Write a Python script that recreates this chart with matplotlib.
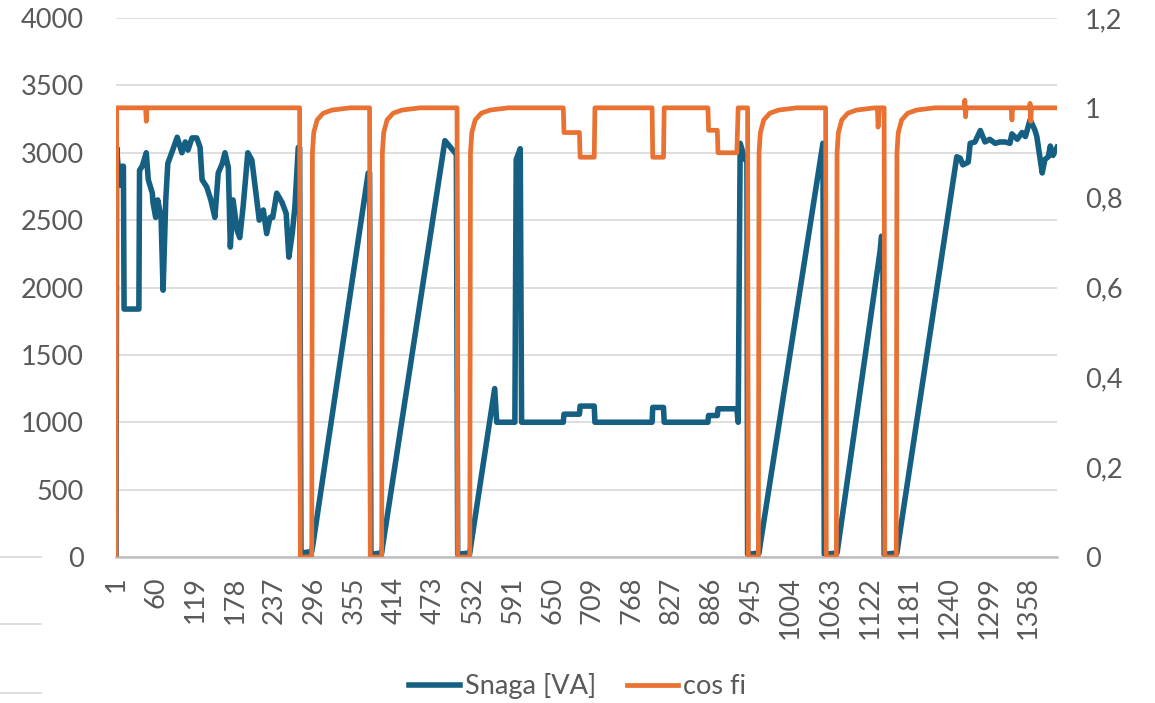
import matplotlib
matplotlib.use("Agg")
import matplotlib.pyplot as plt
from matplotlib.lines import Line2D

plt.rcParams.update({"font.family": ["Lato", "DejaVu Sans"], "font.size": 19.5,
                     "text.color": "#595959", "xtick.color": "#595959", "ytick.color": "#595959"})

BLUE = "#156082"
ORANGE = "#E97132"

# Snaga [VA] — (index, value) points
snaga_idx = [1, 2, 6, 8, 10, 12, 13, 35, 36, 40, 46, 49, 55, 56, 60, 63, 68, 71, 75, 78, 86, 92, 99,
             104, 108, 114, 121, 126, 129, 136, 142, 148, 153, 159, 163, 168, 171, 175, 181, 185, 190,
             197, 203, 208, 214, 220, 225, 230, 234, 240, 248, 254, 258, 263, 267, 272, 274, 276, 292,
             294, 376, 378, 380, 396, 398, 490, 495, 505, 507, 509, 527, 529, 564, 567, 594, 596, 602,
             604, 666, 667, 690, 691, 712, 713, 798, 799, 815, 816, 881, 882, 895, 896, 924, 926, 929,
             936, 939, 940, 957, 959, 1052, 1054, 1073, 1075, 1137, 1139, 1141, 1143, 1162, 1164, 1251,
             1256, 1260, 1268, 1271, 1278, 1286, 1293, 1300, 1308, 1315, 1323, 1330, 1333, 1341, 1348,
             1353, 1360, 1367, 1370, 1378, 1382, 1387, 1390, 1394, 1400]
snaga_val = [0, 3040, 2770, 2760, 2900, 2900, 1840, 1840, 2870, 2900, 3000, 2800, 2700, 2630, 2520,
             2650, 2520, 1980, 2650, 2920, 3030, 3115, 3000, 3080, 3020, 3110, 3110, 3040, 2800, 2745,
             2650, 2520, 2850, 2920, 3000, 2890, 2300, 2650, 2425, 2370, 2600, 3000, 2945, 2745, 2500,
             2575, 2400, 2520, 2520, 2700, 2630, 2550, 2225, 2400, 2600, 3040, 3040, 30, 40, 100, 2850,
             2850, 20, 30, 100, 3090, 3060, 3000, 3010, 20, 30, 100, 1250, 1000, 1000, 2950, 3030, 1000,
             1000, 1060, 1060, 1120, 1120, 1000, 1000, 1110, 1110, 1000, 1000, 1050, 1050, 1100, 1100,
             1000, 3070, 2950, 2950, 20, 30, 100, 3070, 20, 30, 100, 2270, 2380, 2380, 20, 30, 100, 2970,
             2960, 2910, 2930, 3070, 3080, 3165, 3080, 3100, 3070, 3080, 3080, 3070, 3140, 3100, 3150,
             3120, 3245, 3170, 3120, 2850, 2950, 2970, 3050, 2980, 3040]

# cos fi — (index, value) points
cos_idx = [1, 2, 45, 46, 47, 274, 275, 292, 293, 295, 300, 309, 322, 349, 378, 379, 396, 397, 399, 404,
           413, 426, 453, 508, 509, 527, 528, 530, 535, 544, 557, 584, 666, 667, 690, 691, 712, 713, 798,
           799, 815, 816, 881, 882, 895, 896, 924, 926, 940, 941, 956, 957, 959, 964, 973, 986, 1013,
           1056, 1057, 1072, 1073, 1075, 1080, 1089, 1102, 1129, 1133, 1134, 1136, 1143, 1144, 1161,
           1162, 1164, 1169, 1178, 1191, 1218, 1262, 1263, 1264, 1265, 1332, 1333, 1334, 1359, 1360,
           1361, 1362, 1400]
cos_val = [0, 1.0, 1.0, 0.97, 1.0, 1.0, 0, 0, 0.9, 0.945, 0.973, 0.988, 0.995, 1.0, 1.0, 0, 0, 0.9,
           0.945, 0.973, 0.988, 0.995, 1.0, 1.0, 0, 0, 0.9, 0.945, 0.973, 0.988, 0.995, 1.0, 1.0, 0.945,
           0.945, 0.89, 0.89, 1.0, 1.0, 0.89, 0.89, 1.0, 1.0, 0.95, 0.95, 0.90, 0.90, 1.0, 1.0, 0, 0,
           0.9, 0.945, 0.973, 0.988, 0.995, 1.0, 1.0, 0, 0, 0.9, 0.945, 0.973, 0.988, 0.995, 1.0, 1.0,
           0.957, 1.0, 1.0, 0, 0, 0.9, 0.945, 0.973, 0.988, 0.995, 1.0, 1.0, 1.017, 0.98, 1.0, 1.0,
           0.973, 1.0, 1.0, 1.01, 0.97, 1.0, 1.0]

xticks = list(range(1, 1400, 59))
left_ticks = [0, 500, 1000, 1500, 2000, 2500, 3000, 3500, 4000]
right_ticks = [0, 0.2, 0.4, 0.6, 0.8, 1.0, 1.2]
right_labels = ["0", "0,2", "0,4", "0,6", "0,8", "1", "1,2"]

fig = plt.figure(figsize=(11.55, 7.03), dpi=100)
ax = fig.add_axes([116 / 1155, 1 - 557 / 703, 941 / 1155, 539 / 703])
ax2 = ax.twinx()

l1, = ax.plot(snaga_idx, snaga_val, color=BLUE, lw=4.0, solid_joinstyle="round", label="Snaga [VA]")
l2, = ax2.plot(cos_idx, cos_val, color=ORANGE, lw=3.4, solid_joinstyle="round", label="cos fi")

ax.set_xlim(1, 1400)
ax.set_ylim(0, 4000)
ax2.set_ylim(0, 1.2)
ax.set_yticks(left_ticks)
ax2.set_yticks(right_ticks)
ax2.set_yticklabels(right_labels)
ax.set_xticks(xticks)
ax.set_xticklabels([str(t) for t in xticks], rotation=90, va="top", ha="center")

ax.grid(axis="y", color="#d9d9d9", lw=1.2)
ax.set_axisbelow(True)
for a in (ax, ax2):
    for s in a.spines.values():
        s.set_visible(False)
ax.spines["bottom"].set_visible(True)
ax.spines["bottom"].set_color("#bfbfbf")
ax.spines["bottom"].set_linewidth(1.8)
ax.tick_params(axis="y", length=0, pad=23)
ax.tick_params(axis="x", length=0, pad=14)
ax2.tick_params(axis="y", length=0, pad=20)

# stray gridline stubs at the far left
for yp in (557, 624, 693):
    fig.add_artist(Line2D([0, 41 / 1155], [1 - yp / 703] * 2, transform=fig.transFigure,
                          color="#d9d9d9", lw=1.2))

fig.legend(handles=[l1, l2], loc="center", bbox_to_anchor=(0.5, 1 - 686 / 703), ncol=2,
           frameon=False, handlelength=1.9, handletextpad=0.2, columnspacing=1.1)

fig.savefig("out.png", dpi=100)
